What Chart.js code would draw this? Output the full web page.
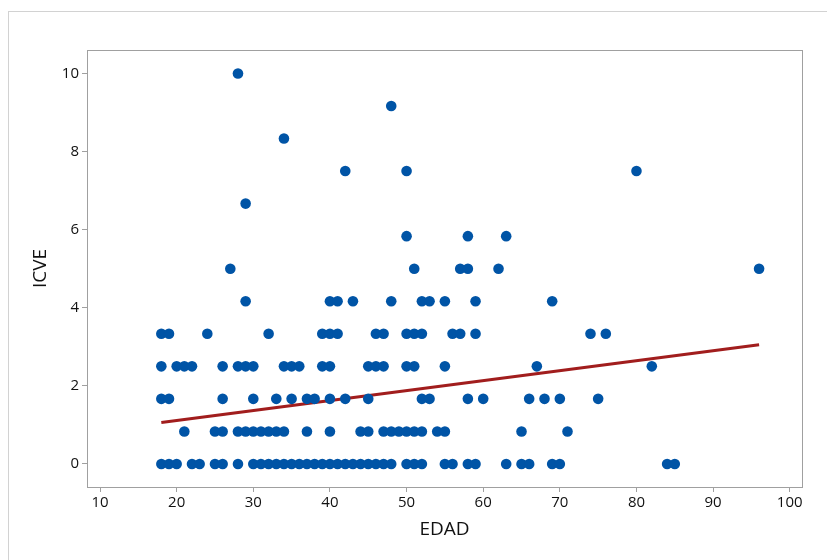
<!DOCTYPE html>
<html>
<head>
<meta charset="utf-8">
<script src="https://cdn.jsdelivr.net/npm/chart.js@4/dist/chart.umd.min.js"></script>
<style>
    html, body { margin: 0; padding: 0; background: #fff; }
    canvas { display: block; }
</style>
</head>
<body>
<canvas id="chart" width="827" height="560"></canvas>
<script>
// ICVE takes steps of 10/12; ages (EDAD) read per level
const icveLevels = [0, 0.833, 1.667, 2.5, 3.333, 4.167, 5, 5.833, 6.667, 7.5, 8.333, 9.167, 10];
const edad0 = [18, 19, 20, 22, 23, 25, 26, 28, 30, 31, 32, 33, 34, 35, 36, 37, 38, 39, 40, 41, 42, 43, 44, 45, 46, 47, 48, 50, 51, 52, 55, 56, 58, 59, 63, 65, 66, 69, 70, 84, 85];
const edad083 = [21, 25, 26, 28, 29, 30, 31, 32, 33, 34, 37, 40, 44, 45, 47, 48, 49, 50, 51, 52, 54, 55, 65, 71];
const edad167 = [18, 19, 26, 30, 33, 35, 37, 38, 40, 42, 45, 52, 53, 58, 60, 66, 68, 70, 75];
const edad250 = [18, 20, 21, 22, 26, 28, 29, 30, 34, 35, 36, 39, 40, 45, 46, 47, 50, 51, 55, 67, 82];
const edad333 = [18, 19, 24, 32, 39, 40, 41, 46, 47, 50, 51, 52, 56, 57, 59, 74, 76];
const edad417 = [29, 40, 41, 43, 48, 52, 53, 55, 59, 69];
const edad500 = [27, 51, 57, 58, 62, 96];
const edad583 = [50, 58, 63];
const edad667 = [29];
const edad750 = [42, 50, 80];
const edad833 = [34];
const edad917 = [48];
const edad1000 = [28];
const edadByLevel = [edad0, edad083, edad167, edad250, edad333, edad417, edad500, edad583, edad667, edad750, edad833, edad917, edad1000];

// fitted regression line, end points
const fitEdad = [18, 96];
const fitIcve = [1.06, 3.05];

const xTicks = [10, 20, 30, 40, 50, 60, 70, 80, 90, 100];
const yTicks = [0, 2, 4, 6, 8, 10];

const points = [];
edadByLevel.forEach((ages, i) => {
    ages.forEach(a => points.push({ x: a, y: icveLevels[i] }));
});
const fitPoints = fitEdad.map((x, i) => ({ x: x, y: fitIcve[i] }));

const frames = {
    id: "frames",
    beforeDraw(chart) {
        const ctx = chart.ctx;
        ctx.save();
        ctx.strokeStyle = "#d2d2d2";
        ctx.lineWidth = 1;
        ctx.strokeRect(8.5, 11.5, 900, 600);
        ctx.restore();
    },
    afterDatasetsDraw(chart) {
        const a = chart.chartArea;
        const ctx = chart.ctx;
        ctx.save();
        ctx.strokeStyle = "#a0a0a0";
        ctx.lineWidth = 1;
        ctx.strokeRect(Math.round(a.left) + 0.5, Math.round(a.top) + 0.5, Math.round(a.right - a.left), Math.round(a.bottom - a.top));
        ctx.restore();
    }
};

const tickFont = { family: "Open Sans", size: 15 };
const titleFont = { family: "Open Sans", size: 19 };

new Chart(document.getElementById("chart").getContext("2d"), {
    type: "scatter",
    data: {
        datasets: [
            {
                label: "ICVE",
                data: points,
                backgroundColor: "#0054a6",
                borderWidth: 0,
                pointRadius: 5.3,
                order: 0
            },
            {
                type: "line",
                label: "Ajuste",
                data: fitPoints,
                borderColor: "#a11d1d",
                borderWidth: 3,
                pointRadius: 0,
                fill: false,
                order: 1
            }
        ]
    },
    options: {
        responsive: false,
        animation: false,
        layout: { padding: { top: 50, right: 25, left: 0, bottom: 0 } },
        plugins: {
            legend: { display: false },
            tooltip: { enabled: false }
        },
        scales: {
            x: {
                type: "linear",
                min: 8.3,
                max: 101.6,
                afterBuildTicks: s => { s.ticks = xTicks.map(v => ({ value: v })); },
                afterFit: s => { s.height = 73; },
                grid: { drawOnChartArea: false, tickLength: 5, color: "#a0a0a0" },
                border: { color: "#a0a0a0" },
                ticks: { font: tickFont, color: "#111", padding: 2, maxRotation: 0 },
                title: { display: true, text: "EDAD", font: titleFont, color: "#111", padding: { top: 0, bottom: 19 } }
            },
            y: {
                type: "linear",
                min: -0.59,
                max: 10.6,
                afterBuildTicks: s => { s.ticks = yTicks.map(v => ({ value: v })); },
                afterFit: s => { s.width = 87; },
                grid: { drawOnChartArea: false, tickLength: 5, color: "#a0a0a0" },
                border: { color: "#a0a0a0" },
                ticks: { font: tickFont, color: "#111", padding: 3 },
                title: { display: true, text: "ICVE", font: titleFont, color: "#111", padding: { top: 29, bottom: 0 } }
            }
        }
    },
    plugins: [frames]
});
</script>
</body>
</html>
